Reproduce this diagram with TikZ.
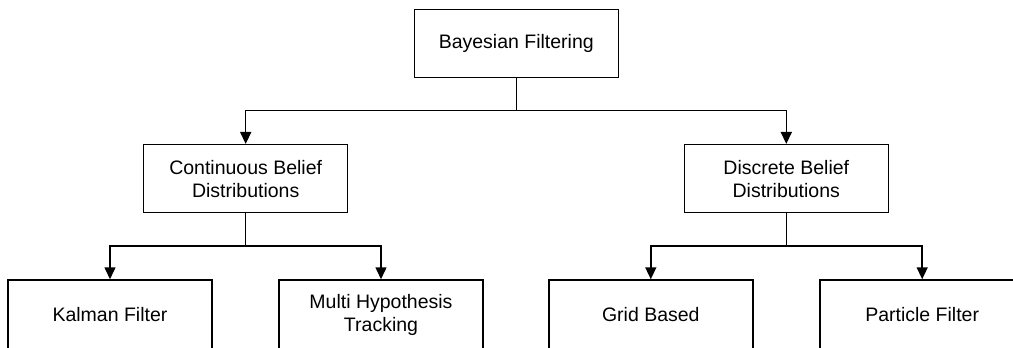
\documentclass[tikz,border=0pt]{standalone}
\usepackage{fontspec}
\setmainfont{Liberation Sans}
\usetikzlibrary{arrows.meta}
\begin{document}
\begin{tikzpicture}[x=1pt,y=-1pt,
  box/.style={draw, line width=1.5pt, minimum width=204pt, minimum height=68pt,
    inner sep=0pt, align=center, font=\fontsize{19.5}{22.7}\selectfont, text=black},
  leaf/.style={box, minimum height=70pt},
  link/.style={line width=1.5pt, -{Triangle[length=12pt,width=11pt]}}]
\useasboundingbox (0,0) rectangle (1013,348);
% tree of filters
\node[box] (root) at (516.3,43.3) {Bayesian Filtering};
\node[box] (cont) at (245.7,178.7) {Continuous Belief\\Distributions};
\node[box] (disc) at (786.3,178.7) {Discrete Belief\\Distributions};
\node[leaf] (kal)  at (110,315) {Kalman Filter};
\node[leaf] (mht)  at (381,315) {Multi Hypothesis\\Tracking};
\node[leaf] (grid) at (650.8,315) {Grid Based};
\node[leaf] (part) at (922.2,315) {Particle Filter};
% branching points
\coordinate (j0) at (516.3,110.5);
\coordinate (j1) at (245.7,246);
\coordinate (j2) at (786.3,246);
\draw[link] (root.south) -- (j0) -| (cont.north);
\draw[link] (j0) -| (disc.north);
\draw[link] (cont.south) -- (j1) -| (kal.north);
\draw[link] (j1) -| (mht.north);
\draw[link] (disc.south) -- (j2) -| (grid.north);
\draw[link] (j2) -| (part.north);
\end{tikzpicture}
\end{document}
